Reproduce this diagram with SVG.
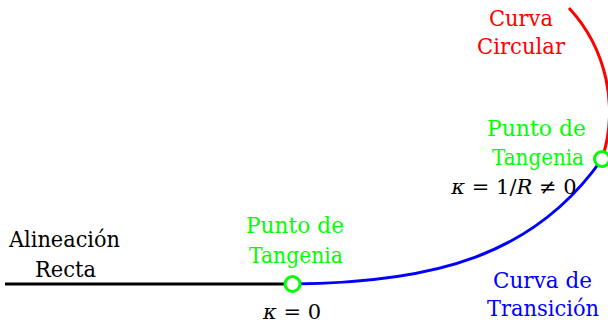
<svg xmlns="http://www.w3.org/2000/svg" width="608" height="326" viewBox="0 0 608 326">
<style>
text{font-family:'DejaVu Serif','Liberation Serif',serif;font-size:21.5px}
.red{fill:#ff0000}.green{fill:#00ff00}.blue{fill:#0000ff}.black{fill:#000}
.math{font-size:21px;text-anchor:middle}
.edge{fill:none;stroke-width:3}
.pt{fill:#fff;stroke:#00ff00;stroke-width:3}
.it{font-style:italic}
</style>
<rect width="608" height="326" fill="#fff"/>
<g id="connectors">
<path class="edge" stroke="#000" d="M5,284 L292,284"/>
<path class="edge" stroke="#0000ff" d="M292,284 C435,283 535,255 602,159"/>
<path class="edge" stroke="#ff0000" d="M569,8 A153,153 0 0 1 602,159"/>
</g>
<g id="recta">
<text class="black" x="9" y="247" textLength="111" lengthAdjust="spacingAndGlyphs">Alineación</text>
<text class="black" x="35" y="277" textLength="61" lengthAdjust="spacingAndGlyphs">Recta</text>
</g>
<g id="punto1">
<circle class="pt" cx="292.5" cy="284" r="7.5"/>
<text class="green" x="246" y="233" textLength="98" lengthAdjust="spacingAndGlyphs">Punto de</text>
<text class="green" x="249" y="263" textLength="94" lengthAdjust="spacingAndGlyphs">Tangenia</text>
<text class="black math" x="292" y="319"><tspan class="it">κ</tspan> = 0</text>
</g>
<g id="transicion">
<text class="blue" x="493" y="288" textLength="99" lengthAdjust="spacingAndGlyphs">Curva de</text>
<text class="blue" x="487" y="316" textLength="112" lengthAdjust="spacingAndGlyphs">Transición</text>
</g>
<g id="punto2">
<circle class="pt" cx="602" cy="159" r="7.5"/>
<text class="green" x="487" y="136" textLength="99" lengthAdjust="spacingAndGlyphs">Punto de</text>
<text class="green" x="492" y="165" textLength="92" lengthAdjust="spacingAndGlyphs">Tangenia</text>
<text class="black math" x="514" y="194"><tspan class="it">κ</tspan> = 1/<tspan class="it">R</tspan> ≠ 0</text>
</g>
<g id="circular">
<text class="red" x="489" y="26" textLength="64" lengthAdjust="spacingAndGlyphs">Curva</text>
<text class="red" x="477" y="54" textLength="88" lengthAdjust="spacingAndGlyphs">Circular</text>
</g>
</svg>
